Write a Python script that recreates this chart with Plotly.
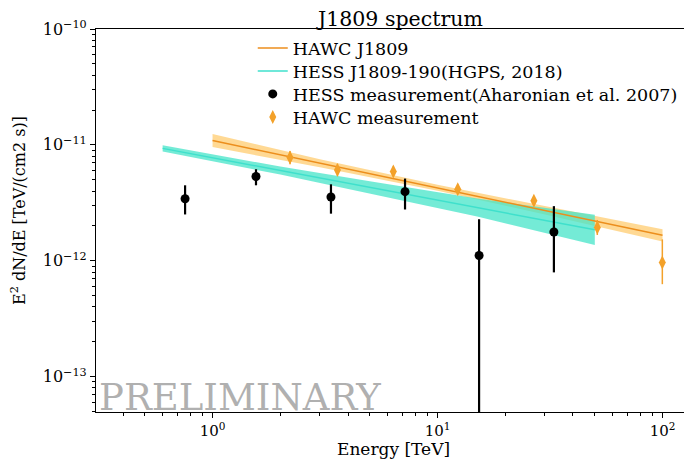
import plotly.graph_objects as go

# ---------------- data ----------------
# HESS measurement (Aharonian et al. 2007)
hess_E = [0.755, 1.56, 3.36, 7.17, 15.3, 32.9]
hess_F = [3.43e-12, 5.33e-12, 3.55e-12, 3.95e-12, 1.11e-12, 1.77e-12]
hess_F_hi = [4.48e-12, 6.16e-12, 4.57e-12, 5.12e-12, 2.28e-12, 2.96e-12]
hess_F_lo = [2.51e-12, 4.48e-12, 2.55e-12, 2.77e-12, 1e-16, 7.94e-13]

# HAWC measurement
hawc_E = [2.21, 3.59, 6.36, 12.3, 26.8, 51.3, 99.8]
hawc_F = [7.78e-12, 6.08e-12, 5.89e-12, 4.15e-12, 3.29e-12, 1.94e-12, 9.66e-13]
hawc_F_hi = [8.87e-12, 6.86e-12, 6.52e-12, 4.58e-12, 3.63e-12, 2.25e-12, 1.53e-12]
hawc_F_lo = [6.81e-12, 5.41e-12, 5.33e-12, 3.76e-12, 2.98e-12, 1.67e-12, 6.28e-13]

# HAWC J1809 model line and band
hawc_mod_E = [1.0, 3.0, 10.0, 30.0, 100.0]
hawc_mod_F = [1.089e-11, 6.95e-12, 4.26e-12, 2.72e-12, 1.66e-12]
hawc_mod_hi = [1.24e-11, 7.53e-12, 4.52e-12, 2.95e-12, 1.87e-12]
hawc_mod_lo = [9.57e-12, 6.41e-12, 4.01e-12, 2.51e-12, 1.47e-12]

# HESS J1809-190 (HGPS, 2018) model line and band
hgps_E = [0.6, 2.0, 5.0, 15.0, 50.0]
hgps_F = [9.33e-12, 6.01e-12, 4.30e-12, 2.88e-12, 1.85e-12]
hgps_hi = [9.91e-12, 6.51e-12, 4.85e-12, 3.45e-12, 2.49e-12]
hgps_lo = [8.79e-12, 5.54e-12, 3.82e-12, 2.41e-12, 1.37e-12]

x_tickvals = [1, 10, 100]
x_ticktext = ["10<sup>0</sup>", "10<sup>1</sup>", "10<sup>2</sup>"]
y_tickvals = [1e-13, 1e-12, 1e-11, 1e-10]
y_ticktext = ["10<sup>\u221213</sup>", "10<sup>\u221212</sup>", "10<sup>\u221211</sup>", "10<sup>\u221210</sup>"]

# ---------------- styling ----------------
FONT = "DejaVu Serif"
ORANGE_LINE = "#EC8E1C"
ORANGE_PT = "#F3A12A"
ORANGE_BAND = "rgba(255,185,60,0.55)"
TURQ_LINE = "#3FE0CC"
TURQ_BAND = "rgba(70,228,200,0.75)"

fig = go.Figure()

# bands
fig.add_trace(go.Scatter(
    x=hawc_mod_E + hawc_mod_E[::-1], y=hawc_mod_hi + hawc_mod_lo[::-1],
    fill="toself", fillcolor=ORANGE_BAND, line=dict(width=0),
    mode="lines", showlegend=False, hoverinfo="skip"))
fig.add_trace(go.Scatter(
    x=hgps_E + hgps_E[::-1], y=hgps_hi + hgps_lo[::-1],
    fill="toself", fillcolor=TURQ_BAND, line=dict(width=0),
    mode="lines", showlegend=False, hoverinfo="skip"))

# model lines
fig.add_trace(go.Scatter(
    x=hgps_E, y=hgps_F, mode="lines", name="HESS J1809-190(HGPS, 2018)",
    line=dict(color=TURQ_LINE, width=1.5), legend="legend2"))
fig.add_trace(go.Scatter(
    x=hawc_mod_E, y=hawc_mod_F, mode="lines", name="HAWC J1809",
    line=dict(color=ORANGE_LINE, width=1.5), legend="legend"))

# measurements
fig.add_trace(go.Scatter(
    x=hawc_E, y=hawc_F, mode="markers", name="HAWC measurement",
    marker=dict(symbol="diamond-tall", size=10, color=ORANGE_PT),
    error_y=dict(type="data", symmetric=False,
                 array=[h - f for h, f in zip(hawc_F_hi, hawc_F)],
                 arrayminus=[f - l for f, l in zip(hawc_F, hawc_F_lo)],
                 color=ORANGE_PT, thickness=1.5, width=0),
    legend="legend4"))
fig.add_trace(go.Scatter(
    x=hess_E, y=hess_F, mode="markers", name="HESS measurement(Aharonian et al. 2007)",
    marker=dict(symbol="circle", size=9, color="black"),
    error_y=dict(type="data", symmetric=False,
                 array=[h - f for h, f in zip(hess_F_hi, hess_F)],
                 arrayminus=[f - l for f, l in zip(hess_F, hess_F_lo)],
                 color="black", thickness=2.2, width=0),
    legend="legend3"))

x_minor = [m * 10 ** d for d in range(-1, 3) for m in range(2, 10)]
y_minor = [m * 10.0 ** d for d in range(-14, -10) for m in range(2, 10)]


def leg(row_y):
    # row_y: page pixel row of the legend entry; plot bottom is at page y=412, height 383
    return dict(x=0.263, y=(412 - row_y) / 383, xanchor="left", yanchor="middle",
                bgcolor="rgba(0,0,0,0)", font=dict(family=FONT, size=17.5))


# the page body has an 8 px default margin, so the figure is sized/margined to compensate
fig.update_layout(
    width=684, height=453,
    margin=dict(l=88, r=0, t=21, b=49),
    paper_bgcolor="white", plot_bgcolor="white",
    font=dict(family=FONT, size=14, color="black"),
    showlegend=True,
    legend=leg(48), legend2=leg(71), legend3=leg(94), legend4=leg(117),
    xaxis=dict(type="log", range=[-0.518, 2.131], showgrid=False, zeroline=False,
               showline=True, linecolor="black", linewidth=1.2, mirror=True,
               ticks="outside", ticklen=5, tickwidth=1, tickcolor="black",
               tickvals=x_tickvals, ticktext=x_ticktext,
               tickfont=dict(family=FONT, size=15),
               minor=dict(tickvals=x_minor, ticks="outside", ticklen=3,
                          tickcolor="black", showgrid=False)),
    yaxis=dict(type="log", range=[-13.305, -10.0], showgrid=False, zeroline=False,
               showline=True, linecolor="black", linewidth=1.2, mirror=False,
               ticks="outside", ticklen=5, tickwidth=1, tickcolor="black",
               tickvals=y_tickvals, ticktext=y_ticktext,
               tickfont=dict(family=FONT, size=16),
               minor=dict(tickvals=y_minor, ticks="outside", ticklen=3,
                          tickcolor="black", showgrid=False)),
    annotations=[
        dict(text="J1809 spectrum", xref="paper", yref="paper",
             x=(399 - 96) / 596, y=1 + (29 - 18.5) / 383, xanchor="center", yanchor="middle",
             showarrow=False, font=dict(family=FONT, size=20.5)),
        dict(text="Energy [TeV]", xref="paper", yref="paper",
             x=(393 - 96) / 596, y=0, xanchor="center", yanchor="top",
             yshift=-25, showarrow=False, font=dict(family=FONT, size=17)),
        dict(text="E<sup>2</sup> dN/dE [TeV/(cm2 s)]", xref="paper", yref="paper",
             x=(18 - 96) / 596, y=(412 - 211) / 383, xanchor="center", yanchor="middle",
             textangle=-90, showarrow=False, font=dict(family=FONT, size=16)),
        dict(text="PRELIMINARY", xref="paper", yref="paper",
             x=(97 - 96) / 596, y=0, xanchor="left", yanchor="bottom",
             yshift=-9, showarrow=False,
             font=dict(family=FONT, size=37, color="rgba(150,150,150,0.75)")),
    ],
)

fig.write_html("out.html")
